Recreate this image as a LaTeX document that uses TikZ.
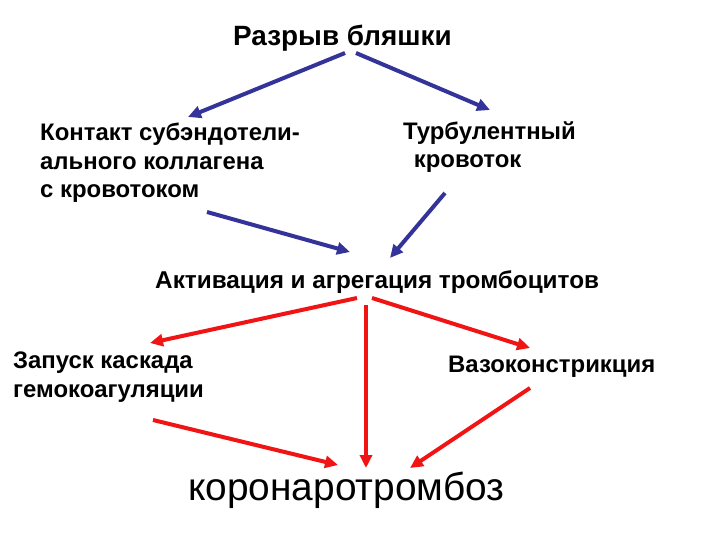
\documentclass[tikz,border=0pt]{standalone}
\usepackage{fontspec}
\setmainfont{Liberation Sans}
\usetikzlibrary{arrows.meta}
\definecolor{arrblue}{RGB}{51,51,153}
\definecolor{arrred}{RGB}{240,20,20}
\tikzset{
  lbl/.style={font=\bfseries\fontsize{24}{28.8}\selectfont, inner sep=0pt, align=left},
  conn/.style={line width=4bp, -{Triangle[length=13bp,width=12bp]}},
  bluec/.style={conn, draw=arrblue},
  redc/.style={conn, draw=arrred},
}
\begin{document}
\begin{tikzpicture}[x=1bp,y=-1bp]
\useasboundingbox[fill=white] (0,0) rectangle (720,540);
\node[lbl, font=\bfseries\fontsize{28}{32}\selectfont, anchor=base west] (top) at (233,46) {Разрыв бляшки};
\node[lbl, anchor=base west] (kont) at (40,198) {Контакт субэндотели-\\ального коллагена\\с кровотоком};
\node[lbl, anchor=base west] (turb) at (403,168) {Турбулентный\\\ \,кровоток};
\node[lbl, font=\bfseries\fontsize{24.4}{28.8}\selectfont, anchor=base west] (akt) at (155,288) {Активация и агрегация тромбоцитов};
\node[lbl, anchor=base west] (zap) at (13,397) {Запуск каскада\\гемокоагуляции};
\node[lbl, anchor=base west] (vaz) at (448,372) {Вазоконстрикция};
\node[font=\fontsize{39}{44}\selectfont, inner sep=0pt, anchor=base west] (kor) at (188,500) {коронаротромбоз};
% connector endpoints
\coordinate (t1) at (345,53);
\coordinate (t2) at (356,53);
\coordinate (k1) at (188,117);
\coordinate (r1) at (490,110);
\coordinate (k2) at (207,212);
\coordinate (r2) at (445,193);
\coordinate (a1) at (350,252);
\coordinate (a2) at (390,258);
\coordinate (b1) at (357,298);
\coordinate (b2) at (372,298);
\coordinate (b3) at (366,305);
\coordinate (z1) at (150,343);
\coordinate (v1) at (530,348);
\coordinate (z2) at (153,420);
\coordinate (v2) at (530,388);
\coordinate (c1) at (338,465);
\coordinate (c2) at (366,468);
\coordinate (c3) at (410,468);
\draw[bluec] (t1) -- (k1);
\draw[bluec] (t2) -- (r1);
\draw[bluec] (k2) -- (a1);
\draw[bluec] (r2) -- (a2);
\draw[redc] (b1) -- (z1);
\draw[redc] (b2) -- (v1);
\draw[redc] (b3) -- (c2);
\draw[redc] (z2) -- (c1);
\draw[redc] (v2) -- (c3);
\end{tikzpicture}
\end{document}
